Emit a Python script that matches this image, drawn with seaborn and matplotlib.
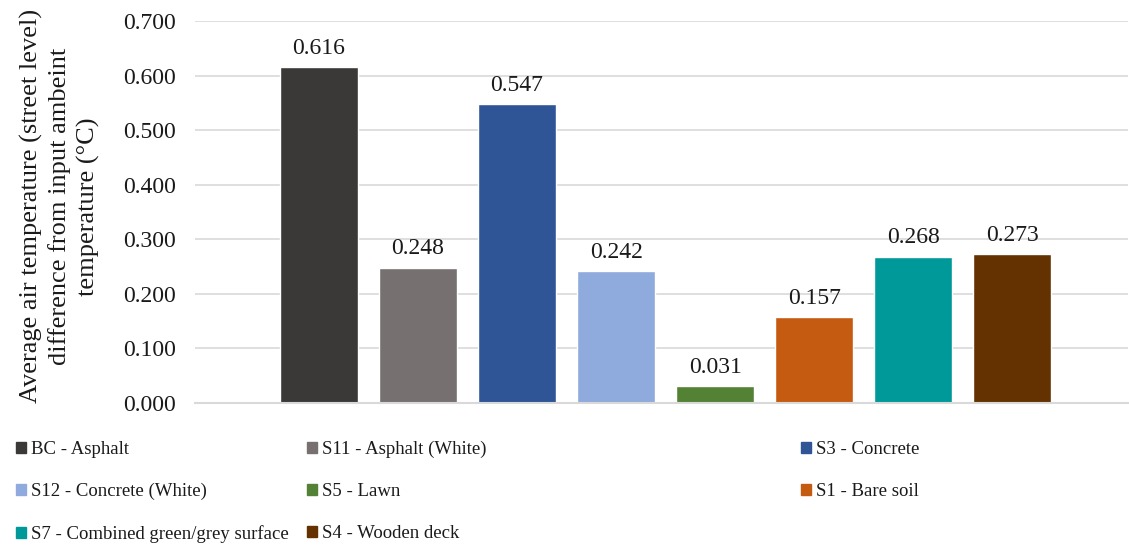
import matplotlib
matplotlib.use("Agg")
import matplotlib.pyplot as plt
import matplotlib.patches as mpatches
import seaborn as sns
import pandas as pd

categories = ["BC - Asphalt", "S11 - Asphalt (White)", "S3 - Concrete",
              "S12 - Concrete (White)", "S5 - Lawn", "S1 - Bare soil",
              "S7 - Combined green/grey surface", "S4 - Wooden deck"]
values = [0.616, 0.248, 0.547, 0.242, 0.031, 0.157, 0.268, 0.273]
colors = ["#3A3937", "#767170", "#2F5597", "#8FAADC", "#548235", "#C55A11", "#009999", "#633200"]
yticks = [0.0, 0.1, 0.2, 0.3, 0.4, 0.5, 0.6, 0.7]
ylabel = "Average air temperature (street level)\ndifference from input ambeint\ntemperature (°C)"

sns.set_theme(style="white")
plt.rcParams['font.family'] = ['Liberation Serif', 'DejaVu Serif']
FS = 17
LFS = 13.5
TC = "#1a1a1a"

df = pd.DataFrame({"cat": categories, "val": values})
fig = plt.figure(figsize=(11.29, 5.45), dpi=100)
ax = fig.add_axes([195/1129, (545-403)/545, (1128-195)/1129, (403-21)/545])
sns.barplot(data=df, x="cat", y="val", hue="cat", palette=colors, order=categories,
            hue_order=categories, width=0.79, saturation=1, legend=False, ax=ax)

ax.set_ylim(0, 0.7)
ax.set_xlim(-1.2525, 8.17)
ax.set_yticks(yticks)
ax.set_yticklabels([f"{t:.3f}" for t in yticks], fontsize=FS, color=TC)
ax.tick_params(axis="y", length=0, pad=14)
ax.set_xticks([])
ax.set_xlabel("")
ax.set_ylabel(ylabel, fontsize=19, color=TC, multialignment="center", linespacing=1.3)
ax.yaxis.set_label_coords(-0.102, 0.515)
ax.grid(axis="y", color="#D9D9D9", lw=1.2)
ax.set_axisbelow(True)
for s in ["top", "right", "left"]:
    ax.spines[s].set_visible(False)
ax.spines["bottom"].set_color("#D9D9D9")
ax.spines["bottom"].set_linewidth(1.5)

for cont in ax.containers:
    ax.bar_label(cont, fmt="%.3f", fontsize=FS, padding=6, color=TC)

handles = [mpatches.Patch(color=c, label=l) for c, l in zip(colors, categories)]
cols = [[0, 3, 6], [1, 4, 7], [2, 5]]
xs = [16/1129, 307/1129, 801/1129]
hl = 10 / (LFS * 100 / 72)
for idx, x in zip(cols, xs):
    leg = fig.legend(handles=[handles[i] for i in idx], loc="upper left",
                     bbox_to_anchor=(x, 1 - 441/545), frameon=False, fontsize=LFS,
                     handlelength=hl, handleheight=hl, handletextpad=0.25,
                     labelspacing=1.32, borderpad=0, borderaxespad=0)
    for t in leg.get_texts():
        t.set_color(TC)

fig.savefig("out.png", dpi=100)
